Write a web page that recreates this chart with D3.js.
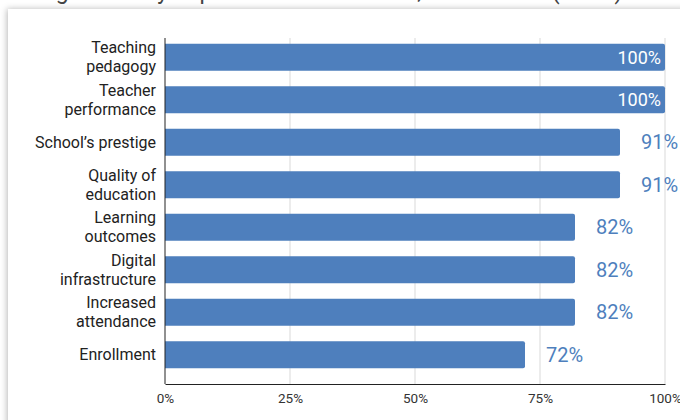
<!DOCTYPE html>
<html>
<head>
<meta charset="utf-8">
<script src="https://cdn.jsdelivr.net/npm/d3@7"></script>
<style>
  html, body { margin: 0; padding: 0; background: #fff; }
  svg { display: block; font-family: Roboto, "Noto Sans", sans-serif; }
</style>
</head>
<body>
<svg id="chart" width="680" height="420"></svg>
<script>
// Share of respondents reporting each improvement (N=11)
const categories = [
  ["Teaching", "pedagogy"],
  ["Teacher", "performance"],
  ["School\u2019s prestige"],
  ["Quality of", "education"],
  ["Learning", "outcomes"],
  ["Digital", "infrastructure"],
  ["Increased", "attendance"],
  ["Enrollment"]
];
const values = [100, 100, 91, 91, 82, 82, 82, 72];
const tickValues = [0, 25, 50, 75, 100];
const title = "Figure 3: Key improvements achieved, 2018\u20132023 (N=11)";

const svg = d3.select("#chart");
const barColor = "#4e7fbd";

// card shadow
const defs = svg.append("defs");
const f = defs.append("filter").attr("id", "shadow")
  .attr("x", "-5%").attr("y", "-5%").attr("width", "110%").attr("height", "110%");
f.append("feDropShadow").attr("dx", -1).attr("dy", 0)
  .attr("stdDeviation", 3).attr("flood-color", "#000").attr("flood-opacity", 0.28);

svg.append("text")
  .attr("x", 330).attr("y", -1)
  .attr("text-anchor", "middle")
  .attr("font-size", 23)
  .attr("fill", "#444")
  .text(title);

svg.append("rect")
  .attr("x", 8).attr("y", 9).attr("width", 700).attr("height", 430)
  .attr("fill", "#fff").attr("filter", "url(#shadow)");

const x0 = 165, x1 = 665, yTop = 38, yAxis = 384;

const x = d3.scaleLinear().domain([0, 100]).range([x0, x1]);
const y = d3.scaleBand().domain(d3.range(categories.length))
  .range([36, 376]).paddingInner(0.36).paddingOuter(0.18);

// vertical gridlines
svg.append("g").selectAll("line")
  .data(tickValues.slice(1))
  .join("line")
  .attr("x1", d => x(d)).attr("x2", d => x(d))
  .attr("y1", yTop).attr("y2", yAxis)
  .attr("stroke", "#d9d9d9").attr("stroke-width", 1);

// bars with rounded right end
const r = 2;
svg.append("g").selectAll("path")
  .data(values)
  .join("path")
  .attr("fill", barColor)
  .attr("d", (d, i) => {
    const xa = x(0), xb = x(d), ya = y(i), h = y.bandwidth();
    return `M${xa},${ya}H${xb - r}Q${xb},${ya} ${xb},${ya + r}V${ya + h - r}Q${xb},${ya + h} ${xb - r},${ya + h}H${xa}Z`;
  });

// value labels
svg.append("g").selectAll("text")
  .data(values)
  .join("text")
  .attr("font-size", d => d >= 100 ? 18 : 20)
  .attr("dy", "0.35em")
  .attr("y", (d, i) => y(i) + y.bandwidth() / 2)
  .attr("x", d => d >= 100 ? x(d) - 4 : x(d) + 21)
  .attr("text-anchor", d => d >= 100 ? "end" : "start")
  .attr("fill", d => d >= 100 ? "#fff" : barColor)
  .text(d => d + "%");

// category labels
const lab = svg.append("g").selectAll("text")
  .data(categories)
  .join("text")
  .attr("font-size", 16)
  .attr("fill", "#222")
  .attr("text-anchor", "end")
  .attr("y", (d, i) => y(i) + y.bandwidth() / 2);
lab.selectAll("tspan")
  .data(d => d.map((t, k) => ({ t, k, n: d.length })))
  .join("tspan")
  .attr("x", 156)
  .attr("dy", (p) => p.k === 0 ? (0.35 - (p.n - 1) * 0.6) + "em" : "1.2em")
  .text(p => p.t);

// x axis
const axis = d3.axisBottom(x).tickValues(tickValues)
  .tickFormat(d => d + "%").tickSize(0).tickPadding(9);
const gx = svg.append("g").attr("transform", `translate(0,${yAxis})`).call(axis);
gx.select(".domain").attr("stroke", "#222");
gx.selectAll("text").attr("font-size", 13.5).attr("fill", "#333")
  .attr("font-family", "Roboto, sans-serif");

// y axis line
svg.append("line")
  .attr("x1", x0).attr("x2", x0).attr("y1", yTop).attr("y2", yAxis)
  .attr("stroke", "#222");
</script>
</body>
</html>
